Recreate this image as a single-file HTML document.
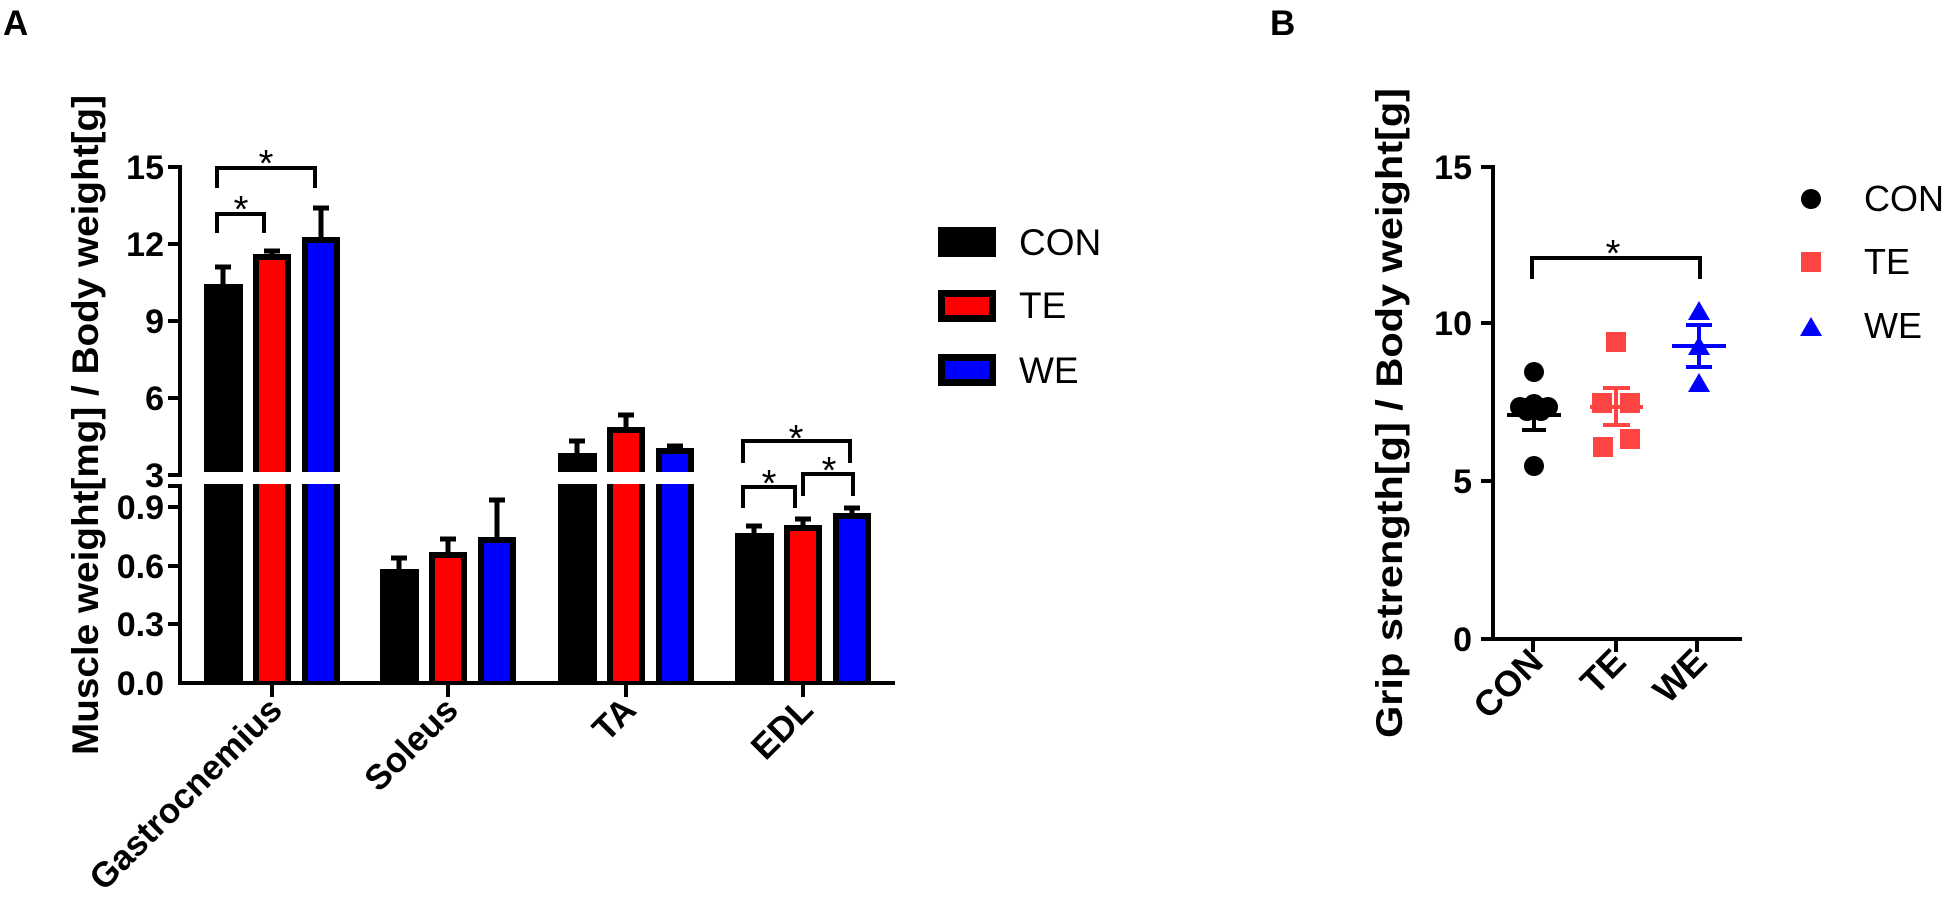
<!DOCTYPE html>
<html><head><meta charset="utf-8"><style>
html,body{margin:0;padding:0;background:#fff;}
svg{display:block;font-family:"Liberation Sans",Arial,sans-serif;}
</style></head><body>
<svg width="1946" height="912" viewBox="0 0 1946 912" xmlns="http://www.w3.org/2000/svg">
<rect width="1946" height="912" fill="#fff"/>
<text x="3" y="35" font-size="35" font-weight="bold">A</text>
<text x="1270" y="35" font-size="35" font-weight="bold">B</text>

<!-- ===== Panel A ===== -->
<text transform="translate(98,425) rotate(-90)" text-anchor="middle" font-size="37" font-weight="bold" textLength="660" lengthAdjust="spacingAndGlyphs">Muscle weight[mg] / Body weight[g]</text>
<g stroke="#000" stroke-width="4" fill="none">
  <line x1="180" y1="165" x2="180" y2="477"/>
  <line x1="180" y1="484" x2="180" y2="685"/>
  <line x1="168" y1="167" x2="180" y2="167"/>
  <line x1="168" y1="244" x2="180" y2="244"/>
  <line x1="168" y1="321" x2="180" y2="321"/>
  <line x1="168" y1="398" x2="180" y2="398"/>
  <line x1="168" y1="475" x2="180" y2="475"/>
  <line x1="168" y1="486" x2="180" y2="486"/>
  <line x1="168" y1="507" x2="180" y2="507"/>
  <line x1="168" y1="566" x2="180" y2="566"/>
  <line x1="168" y1="624" x2="180" y2="624"/>
</g>
<g font-size="34" font-weight="bold" text-anchor="end">
  <text x="164" y="179">15</text>
  <text x="164" y="256">12</text>
  <text x="164" y="333">9</text>
  <text x="164" y="410">6</text>
  <text x="164" y="487">3</text>
  <text x="164" y="519">0.9</text>
  <text x="164" y="578">0.6</text>
  <text x="164" y="636">0.3</text>
  <text x="164" y="695">0.0</text>
</g>

<g>
  <rect x="204" y="284" width="39" height="188" fill="#000"/>
  <rect x="204" y="484" width="39" height="199" fill="#000"/>
  <rect x="253" y="254" width="38" height="218" fill="#000"/><rect x="259" y="260" width="26" height="212" fill="#f00"/>
  <rect x="253" y="484" width="38" height="199" fill="#000"/><rect x="259" y="484" width="26" height="199" fill="#f00"/>
  <rect x="302" y="237" width="38" height="235" fill="#000"/><rect x="308" y="243" width="26" height="229" fill="#00f"/>
  <rect x="302" y="484" width="38" height="199" fill="#000"/><rect x="308" y="484" width="26" height="199" fill="#00f"/>
  <rect x="380" y="569" width="39" height="114" fill="#000"/>
  <rect x="429" y="552" width="38" height="131" fill="#000"/><rect x="435" y="558" width="26" height="125" fill="#f00"/>
  <rect x="478" y="537" width="38" height="146" fill="#000"/><rect x="484" y="543" width="26" height="140" fill="#00f"/>
  <rect x="558" y="453" width="39" height="19" fill="#000"/>
  <rect x="558" y="484" width="39" height="199" fill="#000"/>
  <rect x="607" y="427" width="38" height="45" fill="#000"/><rect x="613" y="433" width="26" height="39" fill="#f00"/>
  <rect x="607" y="484" width="38" height="199" fill="#000"/><rect x="613" y="484" width="26" height="199" fill="#f00"/>
  <rect x="656" y="448" width="38" height="24" fill="#000"/><rect x="662" y="454" width="26" height="18" fill="#00f"/>
  <rect x="656" y="484" width="38" height="199" fill="#000"/><rect x="662" y="484" width="26" height="199" fill="#00f"/>
  <rect x="735" y="533" width="39" height="150" fill="#000"/>
  <rect x="784" y="525" width="38" height="158" fill="#000"/><rect x="790" y="531" width="26" height="152" fill="#f00"/>
  <rect x="833" y="513" width="38" height="170" fill="#000"/><rect x="839" y="519" width="26" height="164" fill="#00f"/>
</g>
<g stroke="#000" stroke-width="5">
  <line x1="223" y1="284" x2="223" y2="267"/><line x1="215" y1="267" x2="231" y2="267"/>
  <line x1="272" y1="254" x2="272" y2="250"/><line x1="264" y1="251" x2="280" y2="251"/>
  <line x1="321" y1="237" x2="321" y2="208"/><line x1="313" y1="208" x2="329" y2="208"/>
  <line x1="399" y1="569" x2="399" y2="558"/><line x1="391" y1="558" x2="407" y2="558"/>
  <line x1="448" y1="552" x2="448" y2="539"/><line x1="440" y1="539" x2="456" y2="539"/>
  <line x1="497" y1="537" x2="497" y2="500"/><line x1="489" y1="500" x2="505" y2="500"/>
  <line x1="577" y1="453" x2="577" y2="441"/><line x1="569" y1="441" x2="585" y2="441"/>
  <line x1="626" y1="427" x2="626" y2="415"/><line x1="618" y1="415" x2="634" y2="415"/>
  <line x1="675" y1="448" x2="675" y2="446"/><line x1="667" y1="446" x2="683" y2="446"/>
  <line x1="754" y1="533" x2="754" y2="526"/><line x1="746" y1="526" x2="762" y2="526"/>
  <line x1="803" y1="525" x2="803" y2="519"/><line x1="795" y1="519" x2="811" y2="519"/>
  <line x1="852" y1="513" x2="852" y2="508"/><line x1="844" y1="508" x2="860" y2="508"/>
</g>
<g stroke="#000" stroke-width="4">
  <line x1="178" y1="683" x2="895" y2="683"/>
  <line x1="272" y1="683" x2="272" y2="697"/>
  <line x1="448" y1="683" x2="448" y2="697"/>
  <line x1="626" y1="683" x2="626" y2="697"/>
  <line x1="803" y1="683" x2="803" y2="697"/>
</g>
<g font-size="35" font-weight="bold" text-anchor="end">
  <text transform="translate(284,712) rotate(-45)">Gastrocnemius</text>
  <text transform="translate(460,712) rotate(-45)">Soleus</text>
  <text transform="translate(638,712) rotate(-45)">TA</text>
  <text transform="translate(815,712) rotate(-45)">EDL</text>
</g>
<g stroke="#000" stroke-width="4" fill="none">
  <polyline points="217,233 217,214 264,214 264,233"/>
  <polyline points="217,188 217,168 315,168 315,188"/>
  <polyline points="743,463 743,441 850,441 850,463"/>
  <polyline points="743,508 743,487 795,487 795,508"/>
  <polyline points="803,496 803,474 853,474 853,496"/>
</g>
<g font-size="38" text-anchor="middle">
  <text x="241" y="222">*</text>
  <text x="266" y="176">*</text>
  <text x="796" y="451">*</text>
  <text x="769" y="496">*</text>
  <text x="829" y="483">*</text>
</g>
<rect x="938" y="227" width="58" height="30" fill="#000"/>
<rect x="938" y="290" width="58" height="32" fill="#000"/><rect x="945" y="297" width="44" height="18" fill="#f00"/>
<rect x="938" y="354" width="58" height="32" fill="#000"/><rect x="945" y="361" width="44" height="18" fill="#00f"/>
<g font-size="37">
  <text x="1019" y="255">CON</text>
  <text x="1019" y="318">TE</text>
  <text x="1019" y="383">WE</text>
</g>

<!-- ===== Panel B ===== -->
<text transform="translate(1402,413) rotate(-90)" text-anchor="middle" font-size="37" font-weight="bold" textLength="650" lengthAdjust="spacingAndGlyphs">Grip strength[g] / Body weight[g]</text>
<g stroke="#000" stroke-width="4">
  <line x1="1493" y1="165" x2="1493" y2="641"/>
  <line x1="1481" y1="167" x2="1493" y2="167"/>
  <line x1="1481" y1="323" x2="1493" y2="323"/>
  <line x1="1481" y1="481" x2="1493" y2="481"/>
  <line x1="1481" y1="639" x2="1742" y2="639"/>
  <line x1="1533" y1="639" x2="1533" y2="652"/>
  <line x1="1616" y1="639" x2="1616" y2="652"/>
  <line x1="1697" y1="639" x2="1697" y2="652"/>
</g>
<g font-size="34" font-weight="bold" text-anchor="end">
  <text x="1472" y="179">15</text>
  <text x="1472" y="335">10</text>
  <text x="1472" y="493">5</text>
  <text x="1472" y="651">0</text>
</g>
<g font-size="36" font-weight="bold" text-anchor="end">
  <text transform="translate(1545,664) rotate(-45)">CON</text>
  <text transform="translate(1628,664) rotate(-45)">TE</text>
  <text transform="translate(1709,664) rotate(-45)">WE</text>
</g>
<g fill="#000">
  <circle cx="1534" cy="372" r="10"/>
  <circle cx="1534" cy="466" r="10"/>
  <circle cx="1520" cy="407" r="10"/>
  <circle cx="1534" cy="404" r="10"/>
  <circle cx="1548" cy="407" r="10"/>
  <circle cx="1527" cy="411" r="10"/>
  <circle cx="1541" cy="411" r="10"/>
</g>
<g stroke="#000" stroke-width="4">
  <line x1="1507" y1="415" x2="1561" y2="415"/>
  <line x1="1534" y1="400" x2="1534" y2="430"/>
  <line x1="1522" y1="400" x2="1546" y2="400"/>
  <line x1="1522" y1="430" x2="1546" y2="430"/>
</g>
<g fill="#f44">
  <rect x="1606" y="332" width="20" height="20"/>
  <rect x="1592" y="393" width="20" height="20"/>
  <rect x="1620" y="393" width="20" height="20"/>
  <rect x="1620" y="429" width="20" height="20"/>
  <rect x="1593" y="437" width="20" height="20"/>
</g>
<g stroke="#f44" stroke-width="4">
  <line x1="1590" y1="407" x2="1643" y2="407"/>
  <line x1="1616" y1="388" x2="1616" y2="425"/>
  <line x1="1603" y1="388" x2="1630" y2="388"/>
  <line x1="1603" y1="425" x2="1630" y2="425"/>
</g>
<g fill="#00f">
  <polygon points="1699,301 1710,320 1688,320"/>
  <polygon points="1699,336 1710,355 1688,355"/>
  <polygon points="1699,373 1710,392 1688,392"/>
</g>
<g stroke="#00f" stroke-width="4">
  <line x1="1672" y1="346" x2="1726" y2="346"/>
  <line x1="1699" y1="325" x2="1699" y2="367"/>
  <line x1="1686" y1="325" x2="1712" y2="325"/>
  <line x1="1686" y1="367" x2="1712" y2="367"/>
</g>
<polyline points="1532,279 1532,258 1700,258 1700,279" stroke="#000" stroke-width="4" fill="none"/>
<text x="1613" y="266" font-size="38" text-anchor="middle">*</text>
<circle cx="1811" cy="199" r="10" fill="#000"/>
<rect x="1801" y="252" width="20" height="20" fill="#f44"/>
<polygon points="1811,317 1822,336 1800,336" fill="#00f"/>
<g font-size="36">
  <text x="1864" y="211">CON</text>
  <text x="1864" y="274">TE</text>
  <text x="1864" y="338">WE</text>
</g>
</svg>
</body></html>
